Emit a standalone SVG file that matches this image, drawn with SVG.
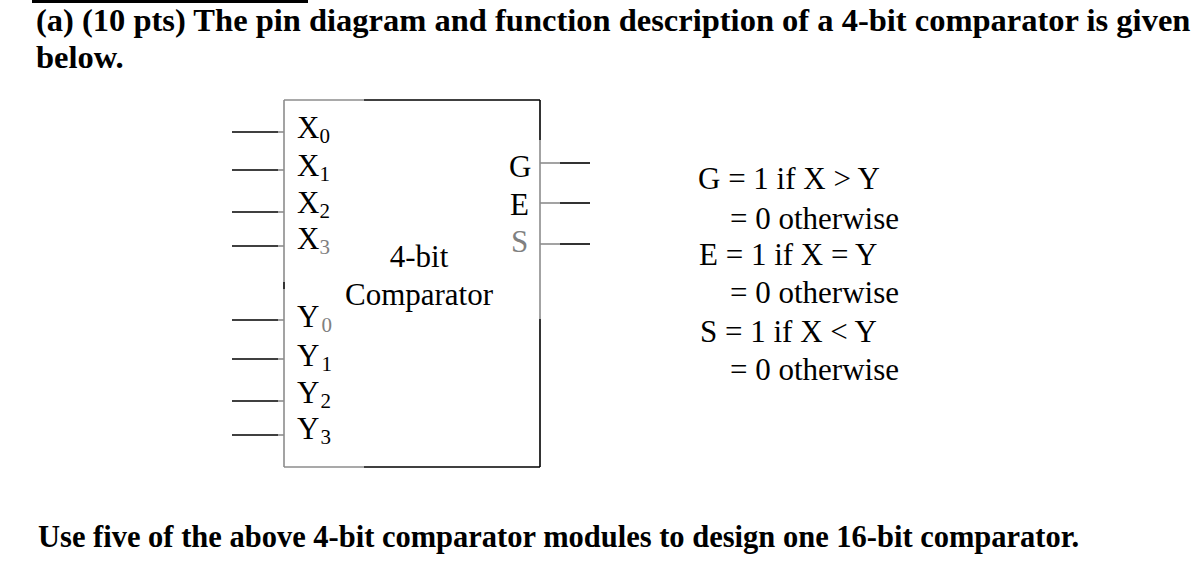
<svg xmlns="http://www.w3.org/2000/svg" width="1202" height="580" viewBox="0 0 1202 580">
<style>
.t{font-family:"Liberation Serif","Times New Roman",serif;fill:#000}
.b{font-weight:bold}
.h{font-size:32.5px}
.f{font-size:30.5px}
.r{font-size:31px}
.sub{font-size:21px}
.g{fill:#808080}
.blk{stroke:#000;stroke-width:1.6;fill:none}
.gry{stroke:#8c8c8c;stroke-width:1.6;fill:none}
</style>
<rect x="32" y="0" width="276" height="3" fill="#000"/>
<text class="t b h" x="36" y="31">(a) (10 pts) The pin diagram and function description of a 4-bit comparator is given</text>
<text class="t b h" x="36" y="68">below.</text>
<g id="comparator">
<line class="gry" x1="284" y1="100" x2="364" y2="100"/>
<line class="blk" x1="364" y1="100" x2="540" y2="100"/>
<line class="blk" x1="540" y1="100" x2="540" y2="140"/>
<line class="gry" x1="540" y1="140" x2="540" y2="319"/>
<line class="blk" x1="540" y1="319" x2="540" y2="467"/>
<line class="blk" x1="364" y1="467" x2="540" y2="467"/>
<line class="gry" x1="284" y1="467" x2="364" y2="467"/>
<line class="gry" x1="284" y1="100" x2="284" y2="282"/>
<line class="blk" x1="284" y1="282" x2="284" y2="289"/>
<line class="gry" x1="284" y1="289" x2="284" y2="467"/>
<text class="t r" x="419" y="267" text-anchor="middle">4-bit</text>
<text class="t r" x="419" y="305" text-anchor="middle">Comparator</text>
<text class="t r" x="297" y="138">X<tspan class="sub" dy="5">0</tspan></text>
<text class="t r" x="297" y="176">X<tspan class="sub" dy="5">1</tspan></text>
<text class="t r" x="297" y="213">X<tspan class="sub" dy="5">2</tspan></text>
<text class="t r" x="297" y="249">X<tspan class="sub g" dy="5">3</tspan></text>
<text class="t r" x="297" y="327">Y<tspan class="sub g" dy="5" dx="2">0</tspan></text>
<text class="t r" x="297" y="366">Y<tspan class="sub" dy="5" dx="2">1</tspan></text>
<text class="t r" x="297" y="403">Y<tspan class="sub" dy="5" dx="1">2</tspan></text>
<text class="t r" x="297" y="439">Y<tspan class="sub" dy="5" dx="1">3</tspan></text>
<text class="t r" x="509" y="177">G</text>
<text class="t r" x="510" y="215">E</text>
<text class="t r g" x="511" y="252">S</text>
</g>
<g id="pins">
<g id="pin-x0"><line class="blk" x1="232" y1="132" x2="278" y2="132"/><line class="gry" x1="278" y1="132" x2="284" y2="132"/></g>
<g id="pin-x1"><line class="blk" x1="232" y1="170" x2="278" y2="170"/><line class="gry" x1="278" y1="170" x2="284" y2="170"/></g>
<g id="pin-x2"><line class="blk" x1="232" y1="212" x2="278" y2="212"/><line class="gry" x1="278" y1="212" x2="284" y2="212"/></g>
<g id="pin-x3"><line class="blk" x1="232" y1="246" x2="278" y2="246"/><line class="gry" x1="278" y1="246" x2="284" y2="246"/></g>
<g id="pin-y0"><line class="blk" x1="232" y1="320" x2="278" y2="320"/><line class="gry" x1="278" y1="320" x2="284" y2="320"/></g>
<g id="pin-y1"><line class="blk" x1="232" y1="359" x2="278" y2="359"/><line class="gry" x1="278" y1="359" x2="284" y2="359"/></g>
<g id="pin-y2"><line class="blk" x1="232" y1="401" x2="278" y2="401"/><line class="gry" x1="278" y1="401" x2="284" y2="401"/></g>
<g id="pin-y3"><line class="blk" x1="232" y1="435" x2="278" y2="435"/><line class="gry" x1="278" y1="435" x2="284" y2="435"/></g>
<g id="pin-g"><line class="gry" x1="540" y1="163" x2="560" y2="163"/><line class="blk" x1="560" y1="163" x2="590" y2="163"/></g>
<g id="pin-e"><line class="gry" x1="540" y1="203" x2="560" y2="203"/><line class="blk" x1="560" y1="203" x2="590" y2="203"/></g>
<g id="pin-s"><line class="gry" x1="540" y1="244" x2="560" y2="244"/><line class="blk" x1="560" y1="244" x2="590" y2="244"/></g>
</g>
<g id="description">
<text class="t r" x="698" y="189">G = 1 if X &gt; Y</text>
<text class="t r" x="730" y="229">= 0 otherwise</text>
<text class="t r" x="699" y="265">E = 1 if X = Y</text>
<text class="t r" x="730" y="303">= 0 otherwise</text>
<text class="t r" x="700" y="342">S = 1 if X &lt; Y</text>
<text class="t r" x="730" y="380">= 0 otherwise</text>
</g>
<text class="t b f" x="38" y="547">Use five of the above 4-bit comparator modules to design one 16-bit comparator.</text>
</svg>
